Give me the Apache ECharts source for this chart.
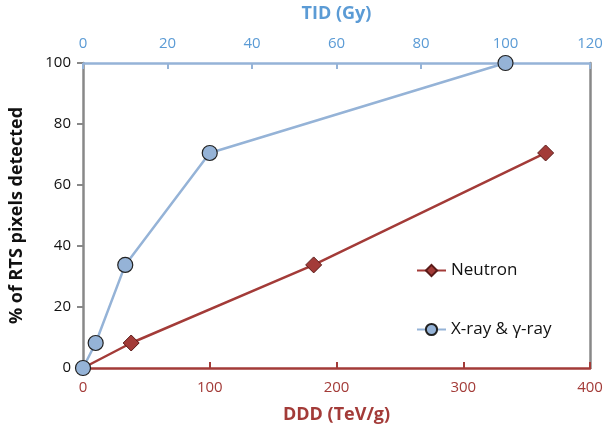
<!DOCTYPE html>
<html><head><meta charset="utf-8">
<script src="https://cdn.jsdelivr.net/npm/echarts@6/dist/echarts.min.js"></script>
<style>html,body{margin:0;padding:0;background:#fff}#c{width:606px;height:432px}</style>
</head><body><div id="c"></div>
<script>
var neutronDDD = [0, 38, 182, 365];
var neutronPct = [0, 8.2, 33.8, 70.5];
var xrayTID = [0, 3, 10, 30, 100];
var xrayPct = [0, 8.2, 33.8, 70.5, 100];
var dddTicks = [0, 100, 200, 300, 400];
var tidTicks = [0, 20, 40, 60, 80, 100, 120];

var red = '#A33B38', blue = '#95B3D7', blueText = '#5B9BD5';
var chart = echarts.init(document.getElementById('c'));
chart.setOption({
  animation: false,
  grid: {left: 82, right: 16, top: 59, bottom: 64},
  xAxis: [{
    type: 'value', position: 'bottom', min: dddTicks[0], max: dddTicks[dddTicks.length-1], interval: 100,
    axisLine: {show: true, onZero: false, lineStyle: {color: red, width: 2.5}},
    axisTick: {show: true, inside: true, length: 6, lineStyle: {color: red, width: 2}},
    axisLabel: {color: red, fontSize: 15, margin: 12, fontFamily: 'Open Sans'},
    splitLine: {show: false},
    name: 'DDD (TeV/g)', nameLocation: 'middle', nameGap: 38,
    nameTextStyle: {color: red, fontSize: 18, fontWeight: 'bold', fontFamily: 'Open Sans'}
  }, {
    type: 'value', position: 'top', min: tidTicks[0], max: tidTicks[tidTicks.length-1], interval: 20,
    axisLine: {show: true, onZero: false, lineStyle: {color: blue, width: 2.5}},
    axisTick: {show: true, inside: true, length: 6, lineStyle: {color: blue, width: 2}},
    axisLabel: {color: blueText, fontSize: 15, margin: 12, fontFamily: 'Open Sans'},
    splitLine: {show: false},
    name: 'TID (Gy)', nameLocation: 'middle', nameGap: 40,
    nameTextStyle: {color: blueText, fontSize: 18, fontWeight: 'bold', fontFamily: 'Open Sans'}
  }],
  yAxis: [{
    type: 'value', min: 0, max: 100, interval: 20, position: 'left',
    axisLine: {show: true, onZero: false, lineStyle: {color: '#888', width: 2.5}},
    axisTick: {show: true, length: 6, lineStyle: {color: '#888', width: 2}},
    axisLabel: {color: '#111', fontSize: 15, margin: 12, fontFamily: 'Open Sans'},
    splitLine: {show: false},
    name: '% of RTS pixels detected', nameLocation: 'middle', nameGap: 57, nameRotate: 90,
    nameTextStyle: {color: '#111', fontSize: 18, fontWeight: 'bold', fontFamily: 'Open Sans'}
  }, {
    type: 'value', min: 0, max: 100, interval: 20, position: 'right',
    axisLine: {show: true, onZero: false, lineStyle: {color: '#888', width: 2.5}},
    axisTick: {show: false}, axisLabel: {show: false}, splitLine: {show: false}
  }],
  legend: {
    orient: 'vertical', left: 411, top: 257, itemGap: 42, itemWidth: 29, itemHeight: 14,
    textStyle: {fontSize: 17, color: '#111', fontFamily: 'Open Sans'},
    data: ['Neutron', 'X-ray & γ-ray']
  },
  series: [{
    name: 'Neutron', type: 'line', xAxisIndex: 0, yAxisIndex: 0,
    data: neutronDDD.map(function(d, i){ return [d, neutronPct[i]]; }),
    symbol: 'diamond', symbolSize: 16,
    lineStyle: {color: red, width: 2.5},
    itemStyle: {color: red, borderColor: '#5a1a18', borderWidth: 1}
  }, {
    name: 'X-ray & γ-ray', type: 'line', xAxisIndex: 1, yAxisIndex: 0,
    data: xrayTID.map(function(d, i){ return [d, xrayPct[i]]; }),
    symbol: 'circle', symbolSize: 15,
    lineStyle: {color: blue, width: 2.5},
    itemStyle: {color: blue, borderColor: '#222', borderWidth: 1.2}
  }]
});
</script></body></html>
